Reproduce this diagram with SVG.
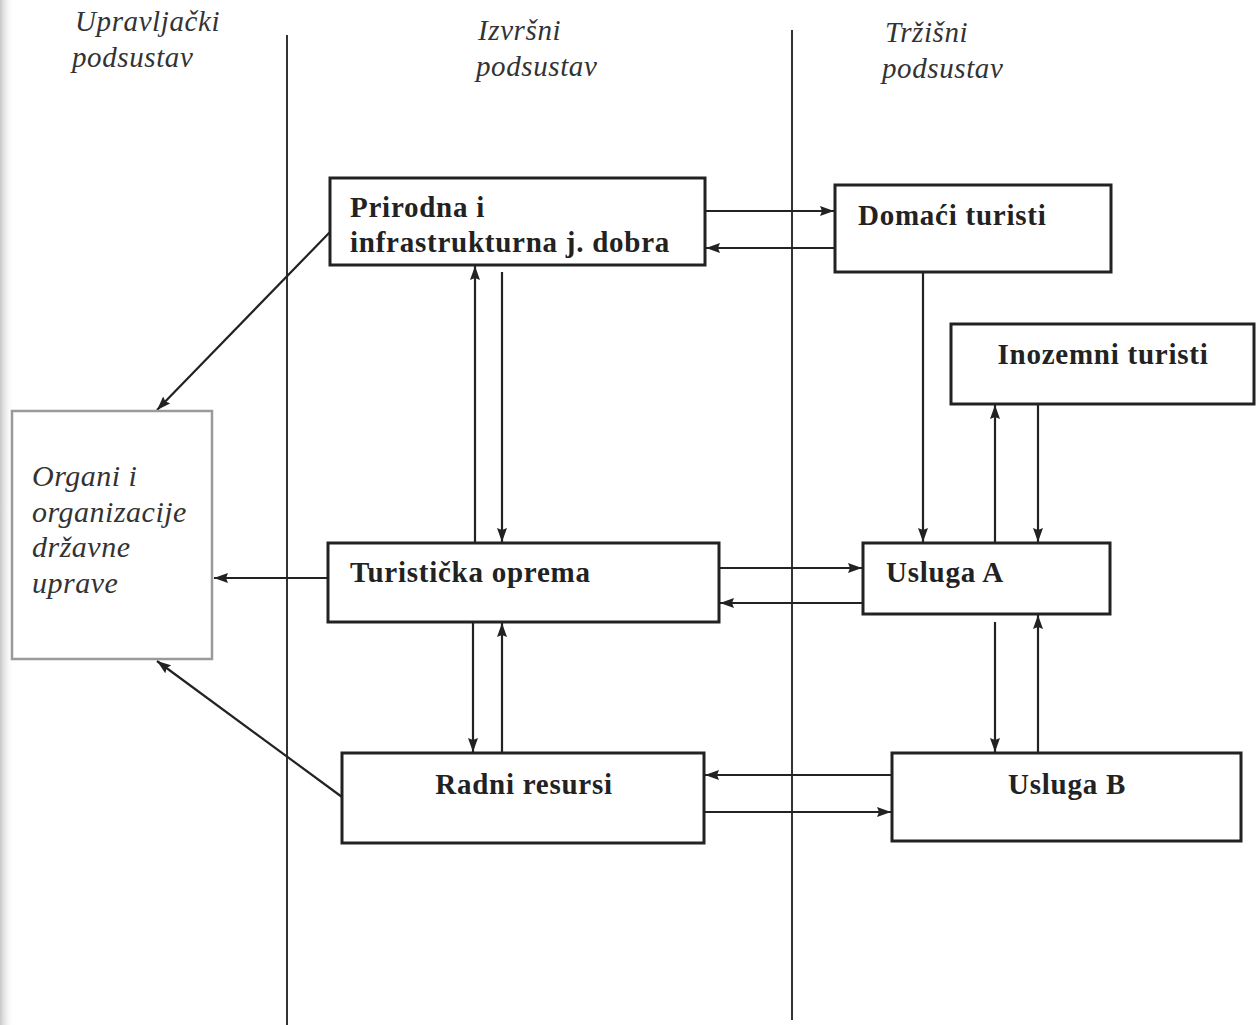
<svg xmlns="http://www.w3.org/2000/svg" width="1256" height="1025" viewBox="0 0 1256 1025">
<defs>
<marker id="ah" viewBox="0 0 14 10" refX="14" refY="5" markerWidth="14" markerHeight="10" markerUnits="userSpaceOnUse" orient="auto">
<path d="M0,0 L14,5 L0,10 L2,5 Z" fill="#222"/>
</marker>
<linearGradient id="edge" x1="0" y1="0" x2="1" y2="0">
<stop offset="0" stop-color="#c8c8c8"/>
<stop offset="1" stop-color="#ffffff" stop-opacity="0"/>
</linearGradient>
</defs>
<style>
.hdr{font-family:"Liberation Serif",serif;font-style:italic;font-size:29px;letter-spacing:0.6px;fill:#333}
.lbl{font-family:"Liberation Serif",serif;font-weight:bold;font-size:29px;letter-spacing:0.75px;fill:#222}
.org{font-family:"Liberation Serif",serif;font-style:italic;font-size:30px;letter-spacing:0.5px;fill:#333}
.box{fill:#fff;stroke:#222;stroke-width:3}
.gbox{fill:#fff;stroke:#9a9a9a;stroke-width:2.5}
.div{stroke:#333;stroke-width:2;fill:none}
.arr{stroke:#222;stroke-width:2.2;fill:none;marker-end:url(#ah)}
</style>
<rect width="1256" height="1025" fill="#fff"/>
<rect width="14" height="1025" fill="url(#edge)"/>

<g id="headers">
<text class="hdr" x="75" y="31">Upravljački</text>
<text class="hdr" x="72" y="67">podsustav</text>
<text class="hdr" x="478" y="40">Izvršni</text>
<text class="hdr" x="476" y="76">podsustav</text>
<text class="hdr" x="885" y="42">Tržišni</text>
<text class="hdr" x="882" y="78">podsustav</text>
</g>

<g id="dividers">
<line class="div" x1="287" y1="35" x2="287" y2="1025"/>
<line class="div" x1="792" y1="30" x2="792" y2="1020"/>
</g>

<g id="connectors">
<line class="arr" x1="705" y1="211" x2="834" y2="211"/>
<line class="arr" x1="835" y1="248" x2="706" y2="248"/>
<line class="arr" x1="330" y1="232" x2="157" y2="410"/>
<line class="arr" x1="475" y1="543" x2="475" y2="266"/>
<line class="arr" x1="502" y1="272" x2="502" y2="542"/>
<line class="arr" x1="328" y1="578" x2="214" y2="578"/>
<line class="arr" x1="719" y1="568" x2="862" y2="568"/>
<line class="arr" x1="863" y1="603" x2="720" y2="603"/>
<line class="arr" x1="473" y1="622" x2="473" y2="752"/>
<line class="arr" x1="502" y1="753" x2="502" y2="623"/>
<line class="arr" x1="342" y1="797" x2="157" y2="661"/>
<line class="arr" x1="892" y1="775" x2="705" y2="775"/>
<line class="arr" x1="704" y1="812" x2="891" y2="812"/>
<line class="arr" x1="923" y1="272" x2="923" y2="542"/>
<line class="arr" x1="995" y1="543" x2="995" y2="405"/>
<line class="arr" x1="1038" y1="404" x2="1038" y2="542"/>
<line class="arr" x1="995" y1="622" x2="995" y2="752"/>
<line class="arr" x1="1038" y1="753" x2="1038" y2="615"/>
</g>

<g id="organi">
<rect class="gbox" x="12" y="411" width="200" height="248"/>
<text class="org" x="32" y="486">Organi i</text>
<text class="org" x="32" y="522">organizacije</text>
<text class="org" x="32" y="557">državne</text>
<text class="org" x="32" y="593">uprave</text>
</g>

<g id="prirodna">
<rect class="box" x="330" y="178" width="375" height="87"/>
<text class="lbl" x="350" y="217">Prirodna i</text>
<text class="lbl" x="350" y="252">infrastrukturna j. dobra</text>
</g>

<g id="domaci">
<rect class="box" x="835" y="185" width="276" height="87"/>
<text class="lbl" x="858" y="225">Domaći turisti</text>
</g>

<g id="inozemni">
<rect class="box" x="951" y="324" width="303" height="80"/>
<text class="lbl" x="1103" y="364" text-anchor="middle">Inozemni turisti</text>
</g>

<g id="turisticka">
<rect class="box" x="328" y="543" width="391" height="79"/>
<text class="lbl" x="350" y="582">Turistička oprema</text>
</g>

<g id="uslugaA">
<rect class="box" x="863" y="543" width="247" height="71"/>
<text class="lbl" x="886" y="582">Usluga A</text>
</g>

<g id="radni">
<rect class="box" x="342" y="753" width="362" height="90"/>
<text class="lbl" x="524" y="794" text-anchor="middle">Radni resursi</text>
</g>

<g id="uslugaB">
<rect class="box" x="892" y="753" width="349" height="88"/>
<text class="lbl" x="1067" y="794" text-anchor="middle">Usluga B</text>
</g>
</svg>
